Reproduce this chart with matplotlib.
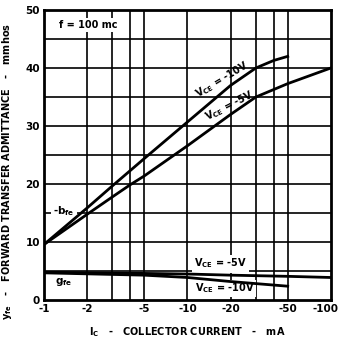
import matplotlib.pyplot as plt
import matplotlib.ticker as mticker
import matplotlib.transforms as mtransforms

plt.rcParams['font.family'] = ['Liberation Sans Narrow', 'DejaVu Sans']
plt.rcParams['font.weight'] = 'bold'
plt.rcParams['axes.labelweight'] = 'bold'
plt.rcParams['mathtext.default'] = 'bf'
plt.rcParams['mathtext.fontset'] = 'custom'
plt.rcParams['mathtext.bf'] = 'Liberation Sans Narrow:bold'

# collector current magnitude (mA), plotted on a log axis, labelled negative
ic_10v = [1, 2, 3, 5, 10, 20, 30, 40, 50]
bfe_10v = [9.6, 15.9, 19.7, 24.4, 30.7, 37.0, 40.0, 41.3, 42.0]

ic_5v = [1, 2, 3, 4, 5, 10, 20, 30, 50, 100]
bfe_5v = [9.6, 14.8, 17.8, 19.9, 21.4, 26.6, 32.0, 35.0, 37.3, 40.0]

ic_g5 = [1, 5, 10, 20, 50, 100]
gfe_5v = [4.8, 4.6, 4.5, 4.3, 4.1, 3.9]

ic_g10 = [1, 5, 10, 20, 50]
gfe_10v = [4.7, 4.3, 3.9, 3.2, 2.4]

xticks = [1, 2, 5, 10, 20, 50, 100]
xtick_labels = ['-1', '-2', '-5', '-10', '-20', '-50', '-100']
xgrid = [2, 3, 4, 5, 10, 20, 30, 40, 50]
yticks = [0, 10, 20, 30, 40, 50]

fig = plt.figure(figsize=(3.39, 3.43), dpi=100)
ax = fig.add_axes([0.13, 0.125, 0.846, 0.846])
ax.set_xscale('log')
ax.set_xlim(1, 100)
ax.set_ylim(0, 50)

# grid
for x in xgrid:
    ax.axvline(x, color='black', lw=1.2, zorder=1)
for y in range(5, 50, 5):
    ax.axhline(y, color='black', lw=1.2, zorder=1)

ax.plot(ic_10v, bfe_10v, color='black', lw=2.0, zorder=5)
ax.plot(ic_5v, bfe_5v, color='black', lw=2.0, zorder=5)
ax.plot(ic_g5, gfe_5v, color='black', lw=2.0, zorder=5)
ax.plot(ic_g10, gfe_10v, color='black', lw=2.0, zorder=5)

ax.set_xticks(xticks)
ax.set_xticklabels(xtick_labels)
ax.xaxis.set_minor_locator(mticker.NullLocator())
ax.set_yticks(yticks)
ax.tick_params(length=0, labelsize=7.5, pad=3)
last = ax.get_xticklabels()[-1]
last.set_transform(last.get_transform() +
                   mtransforms.ScaledTranslation(-5 / 100, 0, fig.dpi_scale_trans))
for s in ax.spines.values():
    s.set_linewidth(2)

box = dict(facecolor='white', edgecolor='none', pad=1.5)
ax.text(2.03, 47.4, 'f = 100 mc', fontsize=7, ha='center', va='center', bbox=box, zorder=4)
ax.text(1.38, 15.3, '-b$_{fe}$', fontsize=7.5, ha='center', va='center', bbox=box, zorder=4)
ax.text(1.36, 3.2, 'g$_{fe}$', fontsize=7.5, ha='center', va='center', bbox=box, zorder=4)
ax.text(17.4, 38.0, 'V$_{CE}$ = -10V', fontsize=7, ha='center', va='center',
        rotation=31, zorder=4)
ax.text(19.6, 33.4, 'V$_{CE}$ = -5V', fontsize=7, ha='center', va='center',
        rotation=27, zorder=4)
ax.text(17.1, 6.3, 'V$_{CE}$ = -5V', fontsize=7, ha='center', va='center', bbox=box, zorder=4)
ax.text(18.1, 2.0, 'V$_{CE}$ = -10V', fontsize=7, ha='center', va='center', bbox=box, zorder=4)

ax.set_xlabel('I$_C$   -   COLLECTOR CURRENT   -   mA', fontsize=7)
ax.xaxis.set_label_coords(0.5, -0.085)
ax.set_ylabel('y$_{fe}$   -   FORWARD TRANSFER ADMITTANCE   -   mmhos', fontsize=7)
ax.yaxis.set_label_coords(-0.105, 0.445)

fig.savefig('out.png', dpi=100)
